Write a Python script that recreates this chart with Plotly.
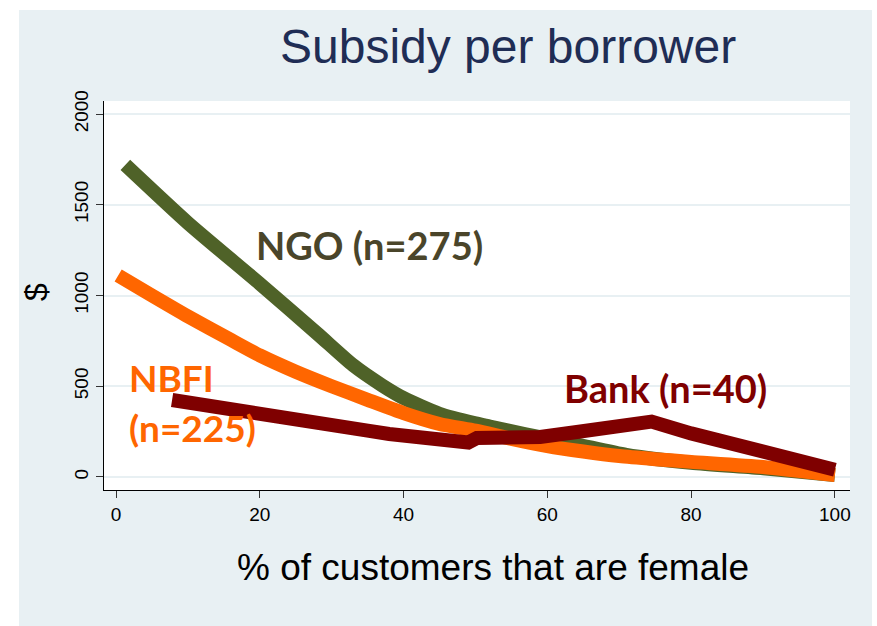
import plotly.graph_objects as go

# Share of female customers (%) and subsidy per borrower ($), smoothed by institution type
ngo_x = [1.3, 10, 20, 28, 33, 37, 40, 45, 50, 52, 57, 64, 71, 80, 90, 100]
ngo_y = [1720, 1400, 1065, 790, 615, 505, 435, 348, 295, 278, 235, 180, 121, 78, 48, 10]

nbfi_x = [0.3, 5, 10, 16, 20, 25, 30, 35, 40, 45, 50, 55, 60, 65, 70, 75, 80, 90, 100]
nbfi_y = [1110, 1000, 885, 755, 670, 580, 500, 425, 352, 292, 255, 210, 170, 140, 115, 98, 83, 55, 10]

bank_x = [7.8, 13, 19.6, 25, 28.8, 32, 35, 38, 42.7, 46, 48, 49, 50.2, 55, 59, 63.6, 68, 72, 74.5, 80, 87, 93, 100]
bank_y = [424, 395, 360, 330, 305, 278, 255, 237, 215, 200, 182, 190, 215, 215, 220, 245, 270, 292, 305, 240, 170, 105, 40]

x_ticks = [0, 20, 40, 60, 80, 100]
y_ticks = [0, 500, 1000, 1500, 2000]

NGO_C, NBFI_C, BANK_C = "#4f6228", "#ff6600", "#7f0000"
BG = "#e8f0f3"

fig = go.Figure()
fig.add_trace(go.Scatter(x=ngo_x, y=ngo_y, mode="lines",
                         line=dict(color=NGO_C, width=14, shape="spline", smoothing=0.6)))
fig.add_trace(go.Scatter(x=nbfi_x, y=nbfi_y, mode="lines",
                         line=dict(color=NBFI_C, width=14, shape="spline", smoothing=0.6)))
fig.add_trace(go.Scatter(x=bank_x, y=bank_y, mode="lines",
                         line=dict(color=BANK_C, width=14)))

# outer tinted panel, with the white plotting region on top
fig.add_shape(type="rect", xref="paper", yref="paper", layer="below",
              x0=-0.1139, x1=1.0295, y0=-0.3496, y1=1.234,
              fillcolor=BG, line=dict(width=0))
fig.add_shape(type="rect", xref="x domain", yref="y domain", layer="below",
              x0=0, x1=1, y0=0, y1=1, fillcolor="white", line=dict(width=0))

label_font = "Lato"
annotations = [
    dict(text="Subsidy per borrower", xref="paper", yref="paper", x=0.5416, y=1.141,
         xanchor="center", yanchor="middle",
         showarrow=False, font=dict(family="Liberation Sans", size=48, color="#1f2d55")),
    dict(text="% of customers that are female", xref="paper", yref="paper", x=0.5214, y=-0.198,
         xanchor="center", yanchor="middle",
         showarrow=False, font=dict(family="Liberation Sans", size=37, color="black")),
    dict(text="$", xref="paper", yref="paper", x=-0.0912, y=0.509, textangle=-90,
         xanchor="center", yanchor="middle",
         showarrow=False, font=dict(family="Liberation Sans", size=32, color="black")),
    dict(text="<b>NGO (n=275)</b>", x=35.3, y=1278, showarrow=False,
         xanchor="center", yanchor="middle",
         font=dict(family=label_font, size=38, color="#4a452a")),
    dict(text="<b>NBFI</b>", x=1.5, y=548, xanchor="left", yanchor="middle", showarrow=False,
         font=dict(family=label_font, size=37, color=NBFI_C)),
    dict(text="<b>(n=225)</b>", x=1.5, y=270, xanchor="left", yanchor="middle", showarrow=False,
         font=dict(family=label_font, size=37, color=NBFI_C)),
    dict(text="<b>Bank (n=40)</b>", x=76.4, y=490, showarrow=False,
         xanchor="center", yanchor="middle",
         font=dict(family=label_font, size=38, color=BANK_C)),
]

fig.update_layout(
    width=877, height=626,
    margin=dict(l=104, r=27, t=101, b=136),
    paper_bgcolor="white", plot_bgcolor="rgba(0,0,0,0)",
    showlegend=False,
    annotations=annotations,
    xaxis=dict(range=[-1.67, 102.1], tickvals=x_ticks, ticks="outside", ticklen=7,
               tickcolor="#333", showline=True, linecolor="black", linewidth=1.2,
               showgrid=False, zeroline=False,
               tickfont=dict(family="Liberation Sans", size=19, color="black")),
    yaxis=dict(range=[-72, 2072], tickvals=y_ticks, ticks="outside", ticklen=7,
               tickcolor="#333", showline=True, linecolor="black", linewidth=1.2,
               showgrid=True, gridcolor=BG, gridwidth=2, zeroline=False,
               tickangle=-90,
               tickfont=dict(family="Liberation Sans", size=19, color="black")),
)

fig.write_html("out.html")
